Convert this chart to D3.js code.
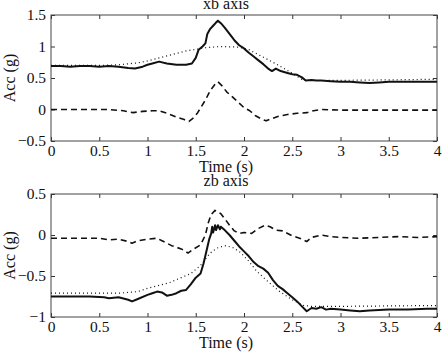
<!DOCTYPE html>
<html>
<head>
<meta charset="utf-8">
<script src="https://cdn.jsdelivr.net/npm/d3@7"></script>
<style>
  body { margin: 0; background: #fff; }
  svg { display: block; }
  .axis text { font-size: 15.5px; fill: #111; font-family: "Liberation Serif", "Times New Roman", Times, serif; }
  .axis path { display: none; }
  .axis line { stroke: #333; }
  .label { font-size: 16px; fill: #111; font-family: "Liberation Serif", "Times New Roman", Times, serif; }
</style>
</head>
<body>
<svg id="chart" width="446" height="352"></svg>
<script>
const WIDTH = 446;
const HEIGHT = 352;

const X_TICKS = [0, 0.5, 1, 1.5, 2, 2.5, 3, 3.5, 4];
const XB_Y_TICKS = [-0.5, 0, 0.5, 1, 1.5];
const ZB_Y_TICKS = [-1, -0.5, 0, 0.5];

// xb axis
const xbSolidT = [0, 0.1, 0.2, 0.3, 0.4, 0.5, 0.6, 0.7, 0.8, 0.87, 0.95, 1.0, 1.05, 1.12, 1.2, 1.3, 1.4, 1.46, 1.5, 1.53, 1.57, 1.6, 1.62, 1.65, 1.68, 1.71, 1.73, 1.76, 1.8, 1.85, 1.9, 1.95, 2.0, 2.05, 2.1, 2.15, 2.2, 2.25, 2.29, 2.33, 2.38, 2.45, 2.5, 2.55, 2.6, 2.64, 2.7, 2.75, 2.8, 2.9, 3.0, 3.1, 3.2, 3.3, 3.4, 3.5, 3.6, 3.7, 3.8, 3.9, 4.0];
const xbSolid = [0.69, 0.69, 0.68, 0.69, 0.69, 0.68, 0.69, 0.68, 0.66, 0.65, 0.68, 0.71, 0.73, 0.76, 0.73, 0.71, 0.71, 0.73, 0.82, 0.95, 1.0, 1.05, 1.2, 1.28, 1.33, 1.38, 1.41, 1.37, 1.3, 1.2, 1.1, 1.02, 0.97, 0.9, 0.84, 0.78, 0.72, 0.65, 0.61, 0.65, 0.61, 0.58, 0.56, 0.55, 0.51, 0.46, 0.47, 0.46, 0.46, 0.45, 0.44, 0.44, 0.43, 0.42, 0.43, 0.44, 0.44, 0.44, 0.44, 0.44, 0.44];
const xbDottedT = [0, 0.5, 0.7, 0.9, 1.0, 1.2, 1.4, 1.6, 1.75, 1.95, 2.05, 2.3, 2.45, 2.62, 2.8, 3.5, 4.0];
const xbDotted = [0.7, 0.7, 0.71, 0.74, 0.77, 0.85, 0.93, 0.98, 1.0, 0.99, 0.95, 0.75, 0.62, 0.46, 0.46, 0.47, 0.48];
const xbDashedT = [0, 0.3, 0.6, 0.75, 0.85, 0.95, 1.05, 1.12, 1.2, 1.3, 1.38, 1.43, 1.47, 1.52, 1.56, 1.6, 1.65, 1.7, 1.73, 1.77, 1.82, 1.88, 1.95, 2.0, 2.06, 2.12, 2.18, 2.23, 2.28, 2.35, 2.45, 2.55, 2.65, 2.72, 2.8, 3.0, 3.5, 4.0];
const xbDashed = [0, 0, 0, -0.02, -0.05, -0.03, -0.02, -0.02, -0.06, -0.12, -0.16, -0.19, -0.14, -0.05, 0.05, 0.15, 0.3, 0.4, 0.44, 0.38, 0.28, 0.2, 0.1, 0.03, -0.02, -0.1, -0.15, -0.18, -0.15, -0.11, -0.08, -0.06, -0.05, -0.02, 0, -0.01, -0.01, -0.01];

// zb axis
const zbSolidT = [0, 0.2, 0.4, 0.55, 0.6, 0.7, 0.8, 0.84, 0.9, 1.0, 1.05, 1.1, 1.15, 1.2, 1.25, 1.3, 1.35, 1.4, 1.45, 1.5, 1.55, 1.58, 1.61, 1.64, 1.66, 1.67, 1.68, 1.7, 1.71, 1.73, 1.75, 1.76, 1.8, 1.85, 1.9, 1.95, 2.0, 2.05, 2.1, 2.15, 2.2, 2.25, 2.3, 2.35, 2.4, 2.45, 2.5, 2.55, 2.6, 2.65, 2.7, 2.75, 2.8, 2.85, 2.9, 3.0, 3.1, 3.2, 3.3, 3.5, 3.7, 3.9, 4.0];
const zbSolid = [-0.75, -0.75, -0.75, -0.76, -0.77, -0.76, -0.79, -0.81, -0.78, -0.73, -0.71, -0.69, -0.7, -0.74, -0.73, -0.71, -0.68, -0.67, -0.6, -0.52, -0.47, -0.35, -0.2, -0.05, 0.02, 0.1, 0.03, 0.12, 0.06, 0.12, 0.07, 0.1, 0.06, 0.0, -0.07, -0.14, -0.2, -0.26, -0.33, -0.38, -0.41, -0.46, -0.55, -0.62, -0.66, -0.71, -0.76, -0.81, -0.87, -0.93, -0.89, -0.9, -0.88, -0.91, -0.9, -0.91, -0.92, -0.93, -0.92, -0.91, -0.91, -0.9, -0.9];
const zbDottedT = [0, 0.5, 0.7, 0.9, 1.0, 1.1, 1.23, 1.35, 1.45, 1.55, 1.65, 1.72, 1.8, 1.88, 1.96, 2.05, 2.13, 2.25, 2.37, 2.5, 2.62, 2.7, 3.0, 4.0];
const zbDotted = [-0.71, -0.71, -0.71, -0.69, -0.65, -0.62, -0.58, -0.52, -0.47, -0.37, -0.22, -0.16, -0.13, -0.15, -0.21, -0.32, -0.44, -0.57, -0.69, -0.79, -0.86, -0.87, -0.87, -0.86];
const zbDashedT = [0, 0.3, 0.5, 0.6, 0.7, 0.8, 0.84, 0.9, 1.0, 1.1, 1.15, 1.25, 1.35, 1.42, 1.48, 1.55, 1.6, 1.63, 1.66, 1.7, 1.73, 1.76, 1.8, 1.85, 1.9, 1.95, 2.0, 2.08, 2.15, 2.22, 2.27, 2.33, 2.4, 2.5, 2.6, 2.65, 2.7, 2.8, 2.9, 3.0, 3.2, 3.4, 3.6, 3.8, 4.0];
const zbDashed = [-0.04, -0.04, -0.04, -0.06, -0.05, -0.08, -0.1, -0.07, -0.05, -0.04, -0.07, -0.13, -0.17, -0.22, -0.17, -0.12, 0.0, 0.15, 0.25, 0.3, 0.28, 0.26, 0.2, 0.12, 0.05, 0.02, 0.03, 0.02, 0.08, 0.12, 0.1, 0.06, 0.05, -0.01, -0.05, -0.08, -0.03, 0.0, -0.02, -0.03, -0.04, -0.03, -0.02, -0.03, -0.02];

const pair = (ts, vs) => ts.map((t, i) => [t, vs[i]]);

const PANELS = [
  {
    title: 'xb axis', top: 15, bottom: 141, domain: [-0.5, 1.5], yTicks: XB_Y_TICKS, titleY: 9,
    lines: [
      { data: pair(xbDottedT, xbDotted), style: 'dotted' },
      { data: pair(xbDashedT, xbDashed), style: 'dashed' },
      { data: pair(xbSolidT, xbSolid), style: 'solid' }
    ]
  },
  {
    title: 'zb axis', top: 194, bottom: 317, domain: [-1, 0.5], yTicks: ZB_Y_TICKS, titleY: 186,
    lines: [
      { data: pair(zbDottedT, zbDotted), style: 'dotted' },
      { data: pair(zbDashedT, zbDashed), style: 'dashed' },
      { data: pair(zbSolidT, zbSolid), style: 'solid' }
    ]
  }
];

const LEFT = 51;
const RIGHT = 437;
const LABEL_X = 226;
const STYLES = {
  solid: { width: 2, dash: null },
  dashed: { width: 1.6, dash: '6,4' },
  dotted: { width: 1.2, dash: '1,3' }
};

const svg = d3.select('#chart')
  .attr('width', WIDTH)
  .attr('height', HEIGHT);

const fmt = d => String(d).replace('-', '\u2212');

const x = d3.scaleLinear().domain([0, 4]).range([LEFT, RIGHT]);

PANELS.forEach(p => {
  const y = d3.scaleLinear().domain(p.domain).range([p.bottom, p.top]);
  const g = svg.append('g');

  g.append('g')
    .attr('class', 'axis')
    .attr('transform', `translate(0, ${p.bottom})`)
    .call(d3.axisBottom(x).tickValues(X_TICKS).tickSize(-4).tickPadding(4).tickFormat(fmt));

  g.append('g')
    .attr('class', 'axis')
    .attr('transform', `translate(0, ${p.top})`)
    .call(d3.axisTop(x).tickValues(X_TICKS).tickSize(-4).tickFormat(''));

  g.append('g')
    .attr('class', 'axis')
    .attr('transform', `translate(${LEFT}, 0)`)
    .call(d3.axisLeft(y).tickValues(p.yTicks).tickSize(-4).tickPadding(5).tickFormat(fmt));

  g.append('g')
    .attr('class', 'axis')
    .attr('transform', `translate(${RIGHT}, 0)`)
    .call(d3.axisRight(y).tickValues(p.yTicks).tickSize(-4).tickFormat(''));

  g.append('rect')
    .attr('x', LEFT)
    .attr('y', p.top)
    .attr('width', RIGHT - LEFT)
    .attr('height', p.bottom - p.top)
    .attr('fill', 'none')
    .attr('stroke', '#444')
    .attr('stroke-width', 1);

  const line = d3.line()
    .x(d => x(d[0]))
    .y(d => y(d[1]));

  p.lines.forEach(l => {
    const s = STYLES[l.style];
    g.append('path')
      .datum(l.data)
      .attr('d', line)
      .attr('fill', 'none')
      .attr('stroke', '#111')
      .attr('stroke-width', s.width)
      .attr('stroke-dasharray', s.dash)
      .attr('stroke-linejoin', 'round');
  });

  g.append('text')
    .attr('class', 'label')
    .attr('text-anchor', 'middle')
    .attr('x', LABEL_X)
    .attr('y', p.titleY)
    .text(p.title);

  g.append('text')
    .attr('class', 'label')
    .attr('text-anchor', 'middle')
    .attr('x', LABEL_X)
    .attr('y', p.bottom + 31)
    .text('Time (s)');

  g.append('text')
    .attr('class', 'label')
    .attr('text-anchor', 'middle')
    .attr('transform', `translate(15, ${(p.top + p.bottom) / 2}) rotate(-90)`)
    .text('Acc (g)');
});
</script>
</body>
</html>
